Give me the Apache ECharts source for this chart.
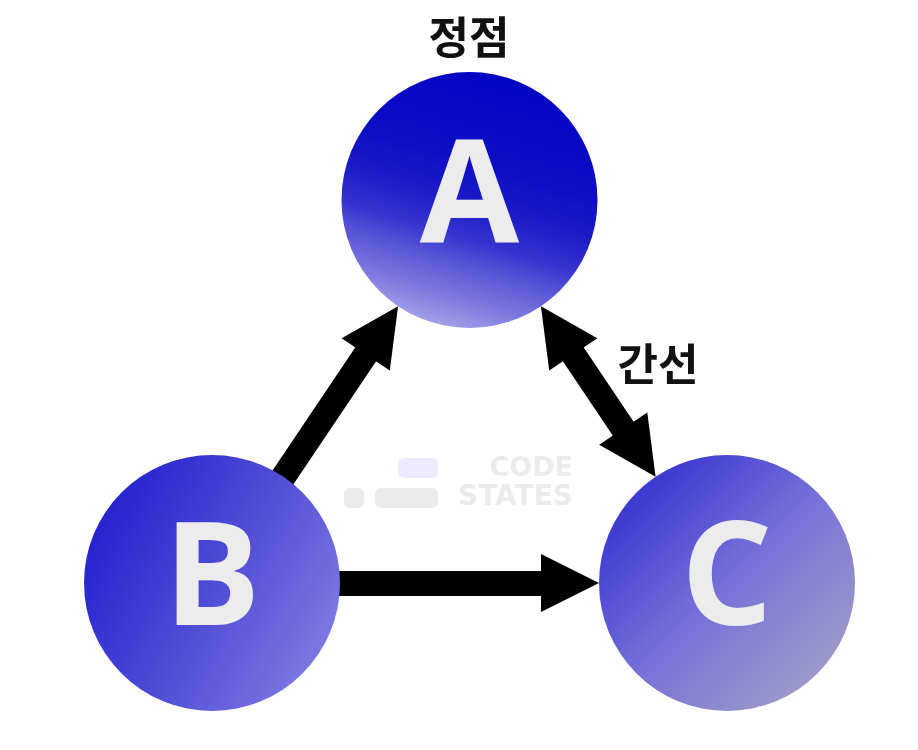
<!DOCTYPE html>
<html>
<head>
<meta charset="utf-8">
<script src="https://cdn.jsdelivr.net/npm/echarts@6/dist/echarts.min.js"></script>
<style>
    html, body { margin: 0; padding: 0; background: #ffffff; }
    #graphdiv { width: 918px; height: 750px; }
</style>
</head>
<body>
<div id="graphdiv"></div>
<script>
// nodes of the graph (column / row on a hidden 2 x 1 grid)
var nodeNames = ['A', 'B', 'C'];
var nodeCol = [1, 0, 2];
var nodeRow = [1, 0, 0];

// edges: from, to, arrow at start, arrow at end
var edgeFrom = ['B', 'A', 'B'];
var edgeTo = ['A', 'C', 'C'];
var edgeStartArrow = [false, true, false];
var edgeEndArrow = [true, true, true];

var vertexText = '정점';
var edgeText = '간선';

var NODE_SIZE = 256;
var ARROW_SIZE = 58;

// gradient of each circle
var nodeFill = {
    A: { x: 0.65, y: 0, x2: 0.35, y2: 1, stops: [[0, '#0303c4'], [0.36, '#0e0ec6'], [0.5, '#1a1ac9'], [0.64, '#3533cf'], [0.74, '#5855d6'], [0.87, '#7e7ade'], [1, '#aaa6e9']] },
    B: { x: 0, y: 0.3, x2: 1, y2: 0.85, stops: [[0, '#2420d0'], [0.5, '#524ed6'], [1, '#8581e4']] },
    C: { x: 0.1, y: 0.1, x2: 0.9, y2: 0.9, stops: [[0, '#3530d0'], [0.5, '#7571d8'], [1, '#a09ec8']] }
};

function toGradient(f) {
    return {
        type: 'linear', x: f.x, y: f.y, x2: f.x2, y2: f.y2,
        colorStops: f.stops.map(function (s) { return { offset: s[0], color: s[1] }; })
    };
}

function initGraph() {
    var chart = echarts.init(document.getElementById('graphdiv'));

    var nodes = [];
    var circles = [];
    for (var i = 0; i < nodeNames.length; i++) {
        nodes.push({ name: nodeNames[i], value: [nodeCol[i], nodeRow[i]] });
        circles.push({
            name: nodeNames[i],
            value: [nodeCol[i], nodeRow[i]],
            itemStyle: { color: toGradient(nodeFill[nodeNames[i]]) }
        });
    }

    var links = [];
    for (var j = 0; j < edgeFrom.length; j++) {
        links.push({
            source: edgeFrom[j],
            target: edgeTo[j],
            symbol: [edgeStartArrow[j] ? 'triangle' : 'none', edgeEndArrow[j] ? 'triangle' : 'none']
        });
    }

    var option = {
        animation: false,
        grid: { left: 212, right: 191, top: 200, bottom: 167 },
        xAxis: { type: 'value', min: 0, max: 2, show: false },
        yAxis: { type: 'value', min: 0, max: 1, show: false },
        series: [{
            // edges; the hidden node is one arrow bigger so the arrow tip meets the circle
            type: 'graph',
            coordinateSystem: 'cartesian2d',
            layout: 'none',
            symbol: 'circle',
            symbolSize: NODE_SIZE + ARROW_SIZE,
            edgeSymbolSize: ARROW_SIZE,
            data: nodes,
            links: links,
            itemStyle: { opacity: 0 },
            label: { show: false },
            lineStyle: { color: '#000000', width: 25, opacity: 1 },
            emphasis: { disabled: true },
            z: 2
        }, {
            // visible circles
            type: 'scatter',
            symbol: 'circle',
            symbolSize: NODE_SIZE,
            data: circles,
            itemStyle: { opacity: 1 },
            label: {
                show: true,
                position: 'inside',
                formatter: '{b}',
                fontFamily: 'Open Sans',
                fontWeight: 'bold',
                fontSize: 144,
                color: '#ececec',
                offset: [0, 1]
            },
            emphasis: { disabled: true },
            z: 3
        }],
        graphic: [
            // watermark
            { type: 'rect', shape: { x: 398, y: 458, width: 40, height: 20, r: 6 }, style: { fill: '#ebe9fb' }, z: -1 },
            { type: 'rect', shape: { x: 344, y: 488, width: 20, height: 20, r: 6 }, style: { fill: '#ebebeb' }, z: -1 },
            { type: 'rect', shape: { x: 375, y: 488, width: 63, height: 20, r: 6 }, style: { fill: '#ebebeb' }, z: -1 },
            { type: 'text', x: 573, y: 469, style: { text: 'CODE', align: 'right', verticalAlign: 'middle', fontFamily: 'DejaVu Sans', fontWeight: 'bold', fontSize: 27, fill: '#ebebeb' }, z: -1 },
            { type: 'text', x: 573, y: 498, style: { text: 'STATES', align: 'right', verticalAlign: 'middle', fontFamily: 'DejaVu Sans', fontWeight: 'bold', fontSize: 28, fill: '#ebebeb' }, z: -1 },
            // annotations
            { type: 'text', x: 469, y: 37, style: { text: vertexText, align: 'center', verticalAlign: 'middle', fontFamily: 'Noto Sans CJK KR', fontWeight: 'bold', fontSize: 44, fill: '#111111' } },
            { type: 'text', x: 658, y: 364, style: { text: edgeText, align: 'center', verticalAlign: 'middle', fontFamily: 'Noto Sans CJK KR', fontWeight: 'bold', fontSize: 44, fill: '#111111' } }
        ]
    };
    chart.setOption(option);
}

initGraph();
</script>
</body>
</html>
